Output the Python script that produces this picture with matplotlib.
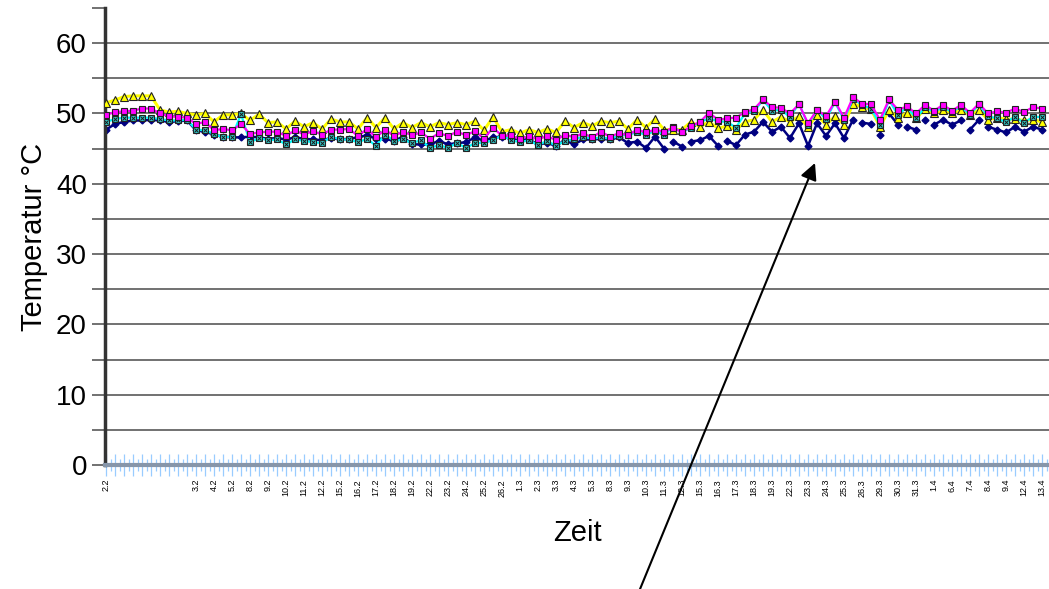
import numpy as np
import matplotlib
matplotlib.use('Agg')
import matplotlib.pyplot as plt

plt.rcParams['font.family'] = ['Liberation Sans', 'DejaVu Sans']

# two readings per day, labels only on every second reading
date_labels = ["2.2", "", "", "", "", "3.2", "4.2", "5.2", "8.2", "9.2", "10.2", "11.2",
               "12.2", "15.2", "16.2", "17.2", "18.2", "19.2", "22.2", "23.2", "24.2",
               "25.2", "26.2", "1.3", "2.3", "3.3", "4.3", "5.3", "8.3", "9.3", "10.3",
               "11.3", "12.3", "15.3", "16.3", "17.3", "18.3", "19.3", "22.3", "23.3",
               "24.3", "25.3", "26.3", "29.3", "30.3", "31.3", "1.4", "6.4", "7.4",
               "8.4", "9.4", "12.4", "13.4"]

navy = [47.7, 48.5, 48.8, 49.0, 49.0, 49.1, 49.0, 48.8, 48.9, 49.0,
        47.6, 47.4, 47.0, 46.7, 46.6, 46.6, 46.7, 46.6, 46.4, 46.5,
        46.3, 46.6, 46.4, 46.3, 46.2, 46.5, 46.3, 46.4, 46.6, 46.9,
        46.4, 46.4, 46.1, 46.7, 45.6, 45.6, 45.6, 46.1, 45.6, 45.8,
        45.9, 46.6, 46.1, 46.6, 46.7, 46.4, 46.4, 46.3, 45.6, 45.8,
        45.4, 46.2, 45.6, 46.3, 46.3, 46.4, 46.3, 46.6, 45.8, 46.0,
        45.1, 46.7, 45.0, 46.0, 45.3, 46.0, 46.2, 46.8, 45.4, 46.1,
        45.5, 47.0, 47.4, 48.8, 47.4, 48.1, 46.5, 48.6, 45.4, 48.6,
        46.8, 48.6, 46.5, 49.1, 48.7, 48.5, 46.9, 50.0, 48.4, 48.1,
        47.7, 49.1, 48.4, 49.1, 48.4, 49.0, 47.7, 49.1, 48.1, 47.7,
        47.3, 48.1, 47.4, 48.1, 47.7]
# readings after which the navy line is interrupted
navy_breaks = [62, 64, 68, 83, 85, 86, 88, 90, 91, 95, 97]

magenta = [49.8, 50.2, 50.3, 50.4, 50.7, 50.7, 50.0, 49.6, 49.5, 49.4,
           48.5, 48.8, 47.6, 47.8, 47.6, 48.5, 47.1, 47.3, 47.4, 47.4,
           46.8, 47.6, 47.0, 47.5, 47.0, 47.7, 47.7, 47.8, 46.8, 47.8,
           46.6, 47.7, 46.8, 47.4, 46.9, 47.3, 46.4, 47.2, 46.8, 47.4,
           46.9, 47.5, 46.4, 48.0, 46.8, 46.9, 46.3, 46.8, 46.3, 46.8,
           46.2, 47.0, 46.6, 47.2, 46.6, 47.4, 46.7, 47.2, 46.9, 47.7,
           47.3, 47.7, 47.4, 48.0, 47.3, 48.2, 48.8, 50.1, 49.1, 49.3,
           49.4, 50.2, 50.6, 52.0, 50.9, 50.8, 50.0, 51.3, 48.6, 50.5,
           49.6, 51.7, 49.4, 52.3, 51.4, 51.3, 49.1, 52.0, 50.5, 51.0,
           50.0, 51.2, 50.4, 51.2, 50.4, 51.2, 50.1, 51.4, 50.0, 50.3,
           50.1, 50.7, 50.2, 50.9, 50.7]

yellow = [51.5, 51.9, 52.4, 52.5, 52.5, 52.5, 50.5, 50.2, 50.3, 50.0,
          49.8, 50.0, 48.8, 49.8, 49.8, 50.0, 49.0, 49.9, 48.7, 48.8,
          47.8, 48.9, 48.1, 48.7, 47.8, 49.2, 48.8, 48.8, 47.8, 49.4,
          48.0, 49.4, 47.8, 48.7, 48.0, 48.7, 48.1, 48.7, 48.4, 48.7,
          48.4, 48.9, 47.6, 49.5, 47.4, 47.7, 47.2, 47.7, 47.3, 47.8,
          47.3, 48.9, 48.0, 48.7, 48.2, 48.9, 48.7, 48.9, 47.8, 49.1,
          48.0, 49.2, 47.7, 47.7, 47.7, 48.8, 48.1, 48.8, 47.9, 48.2,
          47.7, 48.8, 49.1, 50.5, 48.8, 49.5, 48.8, 49.6, 48.1, 49.8,
          48.4, 49.6, 48.4, 51.4, 50.9, 50.6, 48.1, 50.5, 49.3, 50.1,
          49.3, 50.6, 50.0, 50.5, 50.1, 50.5, 49.8, 50.5, 49.1, 49.4,
          49.2, 49.2, 49.0, 49.1, 48.8]

cyan = [48.8, 49.2, 49.4, 49.4, 49.4, 49.4, 49.2, 49.0, 49.0, 49.1,
        47.7, 47.6, 47.1, 46.6, 46.7, 49.9, 45.9, 46.5, 46.2, 46.3,
        45.6, 46.3, 46.1, 45.9, 45.8, 46.7, 46.3, 46.3, 45.9, 46.4,
        45.4, 47.0, 46.1, 46.3, 45.8, 46.2, 45.1, 45.5, 45.1, 45.8,
        45.1, 45.8, 45.8, 46.2, 46.9, 46.2, 45.9, 46.2, 45.5, 46.1,
        45.4, 46.1, 46.3, 46.7, 46.4, 46.6, 46.4, 46.8, 47.0, 47.3,
        47.0, 47.5, 47.0, 48.1, 47.3, 48.0, 48.8, 49.3, 48.9, 48.8,
        48.0, 50.0, 50.3, 51.9, 50.4, 50.5, 49.5, 51.4, 48.4, 50.5,
        49.2, 51.6, 49.1, 52.1, 51.2, 50.7, 48.4, 51.9, 49.8, 50.9,
        49.3, 50.9, 50.2, 50.9, 50.2, 51.0, 49.8, 51.3, 49.6, 49.3,
        48.8, 49.5, 48.7, 49.5, 49.5]

n = len(navy)
x = np.arange(n)

nx, ny = [], []
for i, v in enumerate(navy):
    nx.append(i)
    ny.append(v)
    if i in navy_breaks:
        nx.append(i + 0.5)
        ny.append(np.nan)

fig = plt.figure(figsize=(10.49, 5.89), dpi=100)
ax = fig.add_axes([105 / 1049, 124 / 589, 944 / 1049, 457 / 589])

for lvl in np.arange(5, 65, 5):
    ax.axhline(lvl, color='#4a4a4a', lw=1.1, zorder=0)

ax.plot(nx, ny, color='#000080', lw=1.8, zorder=2)
ax.plot(x, navy, ls='none', marker='D', ms=3.5, color='#000080', zorder=2)
ax.plot(x, yellow, color='#FFFF00', lw=2.2, marker='^', ms=5.5,
        mfc='#FFFF00', mec='#222222', mew=0.8, zorder=3)
ax.plot(x, cyan, color='#00FFFF', lw=1.6, marker='s', ms=4.8,
        mfc='#33CCCC', mec='#222222', mew=0.8, zorder=4)
ax.plot(x, cyan, ls='none', marker='x', ms=3.5, mec='#1a1a1a', mew=0.7, zorder=4)
ax.plot(x, magenta, color='#FF00FF', lw=1.6, marker='s', ms=5,
        mfc='#FF00FF', mec='#222222', mew=0.8, zorder=5)

ax.set_xlim(-1 / 9, 943 / 9)
ax.set_ylim(0, 65)

tick_labels = [date_labels[i // 2] if i % 2 == 0 else '' for i in range(n)]
ax.set_xticks(x)
ax.set_xticklabels(tick_labels, rotation=90, fontsize=6.5)
ax.set_xticks(x + 0.5, minor=True)
ax.tick_params(axis='x', which='major', direction='inout', length=16,
               width=0.9, color='#99CCFF', pad=2)
ax.tick_params(axis='x', which='minor', direction='inout', length=9,
               width=0.9, color='#99CCFF')

ax.set_yticks(np.arange(0, 61, 10))
ax.set_yticks(np.arange(5, 66, 10), minor=True)
ax.tick_params(axis='y', which='both', direction='out', length=9.5,
               width=1.1, color='#4a4a4a', labelsize=20)

for side in ['top', 'right']:
    ax.spines[side].set_visible(False)
ax.spines['left'].set_color('#333333')
ax.spines['left'].set_linewidth(2.5)
ax.spines['bottom'].set_color('#8796AA')
ax.spines['bottom'].set_linewidth(3)

ax.set_ylabel('Temperatur °C', fontsize=21, labelpad=6)
ax.set_xlabel('Zeit', fontsize=21, labelpad=16)

ax.annotate('', xy=(815, 589 - 163), xycoords='figure pixels',
            xytext=(638, -5), textcoords='figure pixels',
            arrowprops=dict(arrowstyle='-|>', color='black', lw=1.5,
                            mutation_scale=25, shrinkA=0, shrinkB=0),
            annotation_clip=False)

plt.savefig('out.png', dpi=100)
